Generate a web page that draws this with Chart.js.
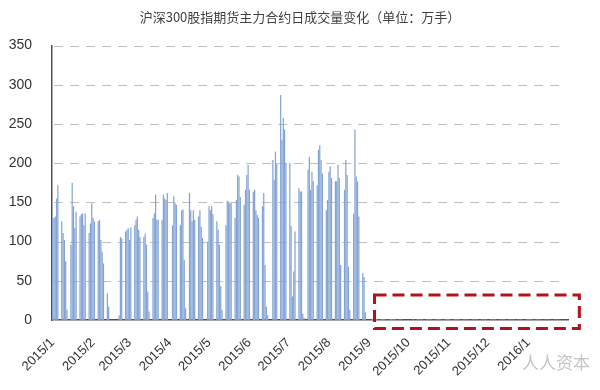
<!DOCTYPE html>
<html>
<head>
<meta charset="utf-8">
<script src="https://cdn.jsdelivr.net/npm/chart.js@4.4.0/dist/chart.umd.min.js"></script>
<style>
  html, body { margin: 0; padding: 0; background: #fff; }
</style>
</head>
<body>
<canvas id="chart" width="600" height="390"></canvas>
<script>
// --- Data (万手, main contract daily volume) ---
const TITLE = '沪深300股指期货主力合约日成交量变化（单位：万手）';
const monthTicks = ['2015/1', '2015/2', '2015/3', '2015/4', '2015/5', '2015/6', '2015/7',
                    '2015/8', '2015/9', '2015/10', '2015/11', '2015/12', '2016/1'];
const holidays = ['2015/2/18', '2015/2/19', '2015/2/20', '2015/2/23', '2015/2/24', '2015/4/6',
                  '2015/5/1', '2015/6/22', '2015/9/3', '2015/9/4', '2015/10/1', '2015/10/2',
                  '2015/10/5', '2015/10/6', '2015/10/7', '2016/1/1'];

const vol2015_01 = [130, 130, 132, 155, 172, 126, 111, 102, 75, 13, 96, 175, 145, 117, 138, 132, 135, 136, 121, 136];
const vol2015_02 = [111, 123, 149, 130, 126, 126, 128, 102, 87, 72, 34, 17, 6, 106, 104];
const vol2015_03 = [113, 115, 117, 102, 118, 121, 128, 132, 115, 106, 106, 110, 96, 36, 11, 130, 136, 160, 128, 128, 128, 160];
const vol2015_04 = [155, 153, 162, 121, 158, 149, 147, 121, 140, 141, 77, 15, 162, 140, 126, 140, 128, 132, 140, 119, 105];
const vol2015_05 = [100, 145, 140, 145, 135, 126, 115, 96, 43, 13, 121, 152, 151, 149, 149, 130, 153, 185, 183, 157];
const vol2015_06 = [147, 166, 185, 198, 166, 164, 166, 140, 134, 130, 145, 162, 70, 17, 6, 204, 179, 215, 200, 287, 230];
const vol2015_07 = [258, 243, 200, 200, 120, 30, 62, 113, 168, 164, 164, 8, 3, 192, 208, 166, 189, 177, 172, 217, 223, 204, 187];
const vol2015_08 = [140, 153, 189, 196, 181, 177, 177, 198, 181, 70, 166, 204, 185, 68, 13, 136, 243, 183, 177, 132, 60];
const vol2015_09 = [55, 10, 1.6, 1.2, 1.1, 0.9, 1.3, 1.0, 0.8, 0.9, 0.7, 0.6, 1.0, 0.8, 0.7, 0.9, 0.6, 0.5, 0.7, 0.6];
const vol2015_10 = [0.6, 0.7, 0.9, 0.8, 0.7, 0.6, 0.5, 0.7, 0.8, 0.6, 0.6, 0.5, 0.6, 0.7, 0.8, 0.6, 0.5];
const vol2015_11 = [0.6, 0.7, 0.8, 0.9, 0.8, 0.7, 0.8, 0.7, 0.9, 0.6, 0.5, 0.6, 0.7, 0.6, 0.5, 0.6, 0.5, 0.7, 0.6, 0.5, 0.5];
const vol2015_12 = [0.6, 0.5, 0.6, 0.5, 0.6, 0.7, 0.6, 0.5, 0.6, 0.5, 0.6, 0.5, 0.5, 0.6, 0.5, 0.6, 0.5, 0.4, 0.5, 0.5, 0.4, 0.5, 0.5];
const vol2016_01 = [0.9, 0.7, 0.8, 0.6, 0.5, 0.5, 0.6, 0.5, 0.4, 0.5, 0.5, 0.4, 0.5, 0.4, 0.4, 0.4, 0.5, 0.4, 0.4, 0.4];

const monthlyVolumes = {
    '2015/1': vol2015_01, '2015/2': vol2015_02, '2015/3': vol2015_03, '2015/4': vol2015_04,
    '2015/5': vol2015_05, '2015/6': vol2015_06, '2015/7': vol2015_07, '2015/8': vol2015_08,
    '2015/9': vol2015_09, '2015/10': vol2015_10, '2015/11': vol2015_11, '2015/12': vol2015_12,
    '2016/1': vol2016_01
};

// highlighted zone after the trading restrictions
const HIGHLIGHT_FROM = '2015/9/9';
const HIGHLIGHT_TOP = 32, HIGHLIGHT_BOTTOM = -11;

// --- Calendar axis: one category per day, bars only on trading days ---
const fmt = d => `${d.getFullYear()}/${d.getMonth() + 1}/${d.getDate()}`;
const days = [];
for (let d = new Date(2015, 0, 5); d <= new Date(2016, 1, 4); d.setDate(d.getDate() + 1)) {
    days.push(new Date(d));
}
const labels = days.map(fmt);
const counters = {};
const values = days.map(d => {
    const wd = d.getDay();
    if (wd === 0 || wd === 6 || holidays.includes(fmt(d))) return null;
    const key = `${d.getFullYear()}/${d.getMonth() + 1}`;
    const arr = monthlyVolumes[key];
    if (!arr) return null;
    counters[key] = (counters[key] ?? -1) + 1;
    return arr[counters[key]] ?? null;
});

// dashed horizontal gridlines at the y ticks (drawn under the bars)
const dashedGrid = {
    id: 'dashedGrid',
    beforeDatasetsDraw(chart) {
        const { ctx, chartArea, scales: { y } } = chart;
        ctx.save();
        ctx.strokeStyle = '#bfbfbf';
        ctx.lineWidth = 1;
        ctx.setLineDash([9, 7]);
        y.ticks.forEach(t => {
            if (t.value === 0) return;
            const py = Math.round(y.getPixelForValue(t.value)) + 0.5;
            ctx.beginPath();
            ctx.moveTo(chartArea.left + 2, py);
            ctx.lineTo(chartArea.right - 5, py);
            ctx.stroke();
        });
        ctx.restore();
    }
};

const boxPlugin = {
    id: 'highlightBox',
    afterDraw(chart) {
        const { ctx, scales: { x, y } } = chart;
        const left = x.getPixelForValue(labels.indexOf(HIGHLIGHT_FROM));
        const right = x.getPixelForValue(labels.length - 1) + 12;
        const top = y.getPixelForValue(HIGHLIGHT_TOP);
        const bottom = y.getPixelForValue(HIGHLIGHT_BOTTOM);
        ctx.save();
        ctx.strokeStyle = '#B0131C';
        ctx.lineWidth = 3;
        ctx.setLineDash([12, 6]);
        ctx.strokeRect(left, top, right - left, bottom - top);
        ctx.setLineDash([]);
        // watermark
        ctx.fillStyle = '#c4c4c4';
        ctx.font = '17px "Noto Sans CJK SC"';
        ctx.textAlign = 'right';
        ctx.textBaseline = 'middle';
        ctx.fillText('人人资本', chart.width - 10, chart.height - 27);
        ctx.restore();
    }
};

const ctx = document.getElementById('chart').getContext('2d');
new Chart(ctx, {
    type: 'bar',
    data: {
        labels,
        datasets: [{
            data: values,
            backgroundColor: '#84A4D5',
            borderWidth: 0,
            barPercentage: 1,
            categoryPercentage: 0.95
        }]
    },
    options: {
        responsive: false,
        animation: false,
        layout: { padding: 0 },
        plugins: {
            legend: { display: false },
            tooltip: { enabled: false },
            title: {
                display: true, text: TITLE, color: '#404040',
                font: { family: '"Noto Sans CJK SC"', size: 13, weight: 'normal' },
                padding: { top: 9, bottom: 21 }
            }
        },
        scales: {
            x: {
                grid: { display: false },
                border: { color: '#505050', width: 1.5 },
                ticks: {
                    autoSkip: false, minRotation: 45, maxRotation: 45,
                    color: '#333', padding: 7,
                    font: { family: 'Liberation Sans', size: 13 },
                    callback: (val, i) => {
                        const d = days[i];
                        if (d.getDate() !== 5) return null;
                        return monthTicks[(d.getFullYear() - 2015) * 12 + d.getMonth()];
                    }
                },
                afterFit: s => { s.height = 70; }
            },
            y: {
                min: 0, max: 350,
                grid: { display: false },
                border: { color: '#505050', width: 1.5 },
                ticks: {
                    stepSize: 50, color: '#333', padding: 12,
                    font: { family: 'Liberation Sans', size: 14 }
                },
                afterFit: s => { s.width = 52; }
            },
            // empty right-hand spacer so the plot ends where the reference does
            pad: {
                type: 'linear', position: 'right', display: true,
                grid: { display: false }, border: { display: false },
                ticks: { display: false },
                afterFit: s => { s.width = 32; }
            }
        }
    },
    plugins: [dashedGrid, boxPlugin]
});
</script>
</body>
</html>
